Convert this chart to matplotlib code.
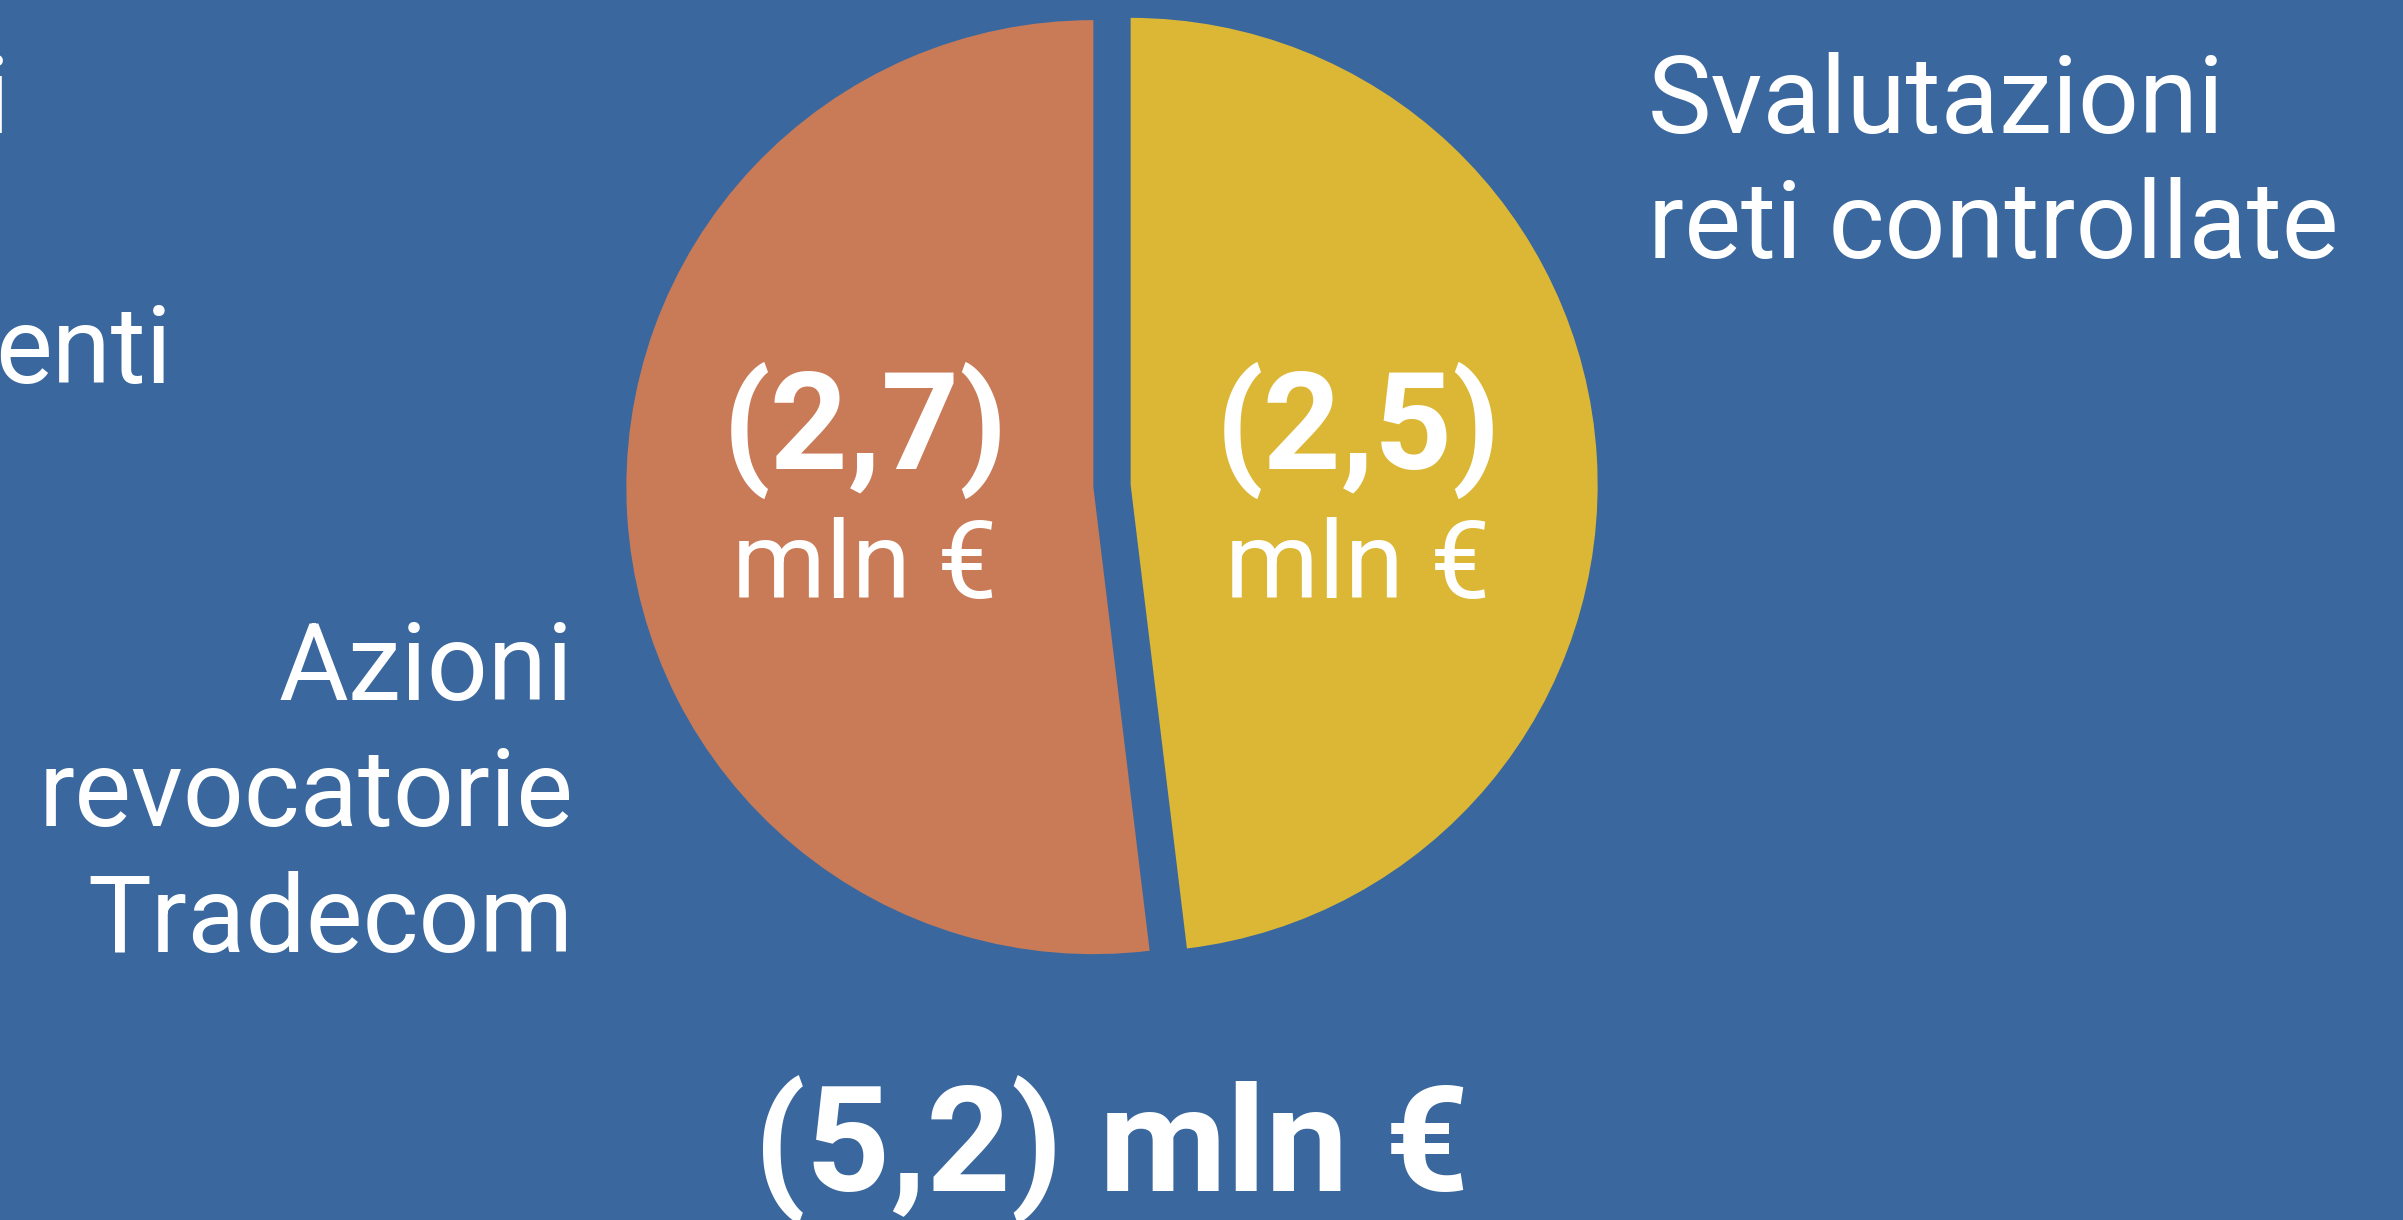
import matplotlib
matplotlib.use("Agg")
import matplotlib.pyplot as plt

# slice data (mln €), drawn clockwise from the top
labels = ["Svalutazioni reti controllate", "Azioni revocatorie Tradecom"]
values = [2.5, 2.7]
value_text = ["(2,5)", "(2,7)"]
total_text = "(5,2) mln €"
colors = ["#DCB735", "#C97B58"]

bg = "#3A689E"
W, H = 2403, 1220
radius = 467

plt.rcParams['font.family'] = ['Roboto', 'DejaVu Sans']

fig = plt.figure(figsize=(W / 100, H / 100), dpi=100, facecolor=bg)
ax = fig.add_axes([0, 0, 1, 1])
ax.set_facecolor(bg)

# pie, centre and radius in pixel units of the picture
ax.pie(values, colors=colors, startangle=90, counterclock=False,
       explode=[0.04 * radius, 0.04 * radius], center=(1112, H - 486), radius=radius,
       wedgeprops=dict(linewidth=0))

ax.set_xlim(0, W)
ax.set_ylim(0, H)
ax.set_aspect('auto')
ax.axis('off')

big = 77
# labels outside the pie
ax.text(1648, H - 133, "Svalutazioni", color="white", fontsize=big, ha='left', va='baseline')
ax.text(1648, H - 258, "reti controllate", color="white", fontsize=big, ha='left', va='baseline')

for line, yb in zip(["Azioni", "revocatorie", "Tradecom"], [700, 826, 952]):
    ax.text(573, H - yb, line, color="white", fontsize=big, ha='right', va='baseline')

# cut-off label at the left edge
ax.text(10, H - 133, "i", color="white", fontsize=big, ha='right', va='baseline')
ax.text(172, H - 383, "enti", color="white", fontsize=big, ha='right', va='baseline')

# values inside slices
for txt, xc in zip(value_text, [1358, 865]):
    ax.text(xc, H - 469, txt, color="white", fontsize=98, fontweight='bold',
            ha='center', va='baseline')
    ax.text(xc, H - 598, "mln €", color="white", fontsize=big, ha='center', va='baseline')

# total
ax.text(1112, H - 1191, total_text, color="white", fontsize=106, fontweight='bold',
        ha='center', va='baseline')

fig.savefig("out.png", dpi=100, facecolor=bg)
